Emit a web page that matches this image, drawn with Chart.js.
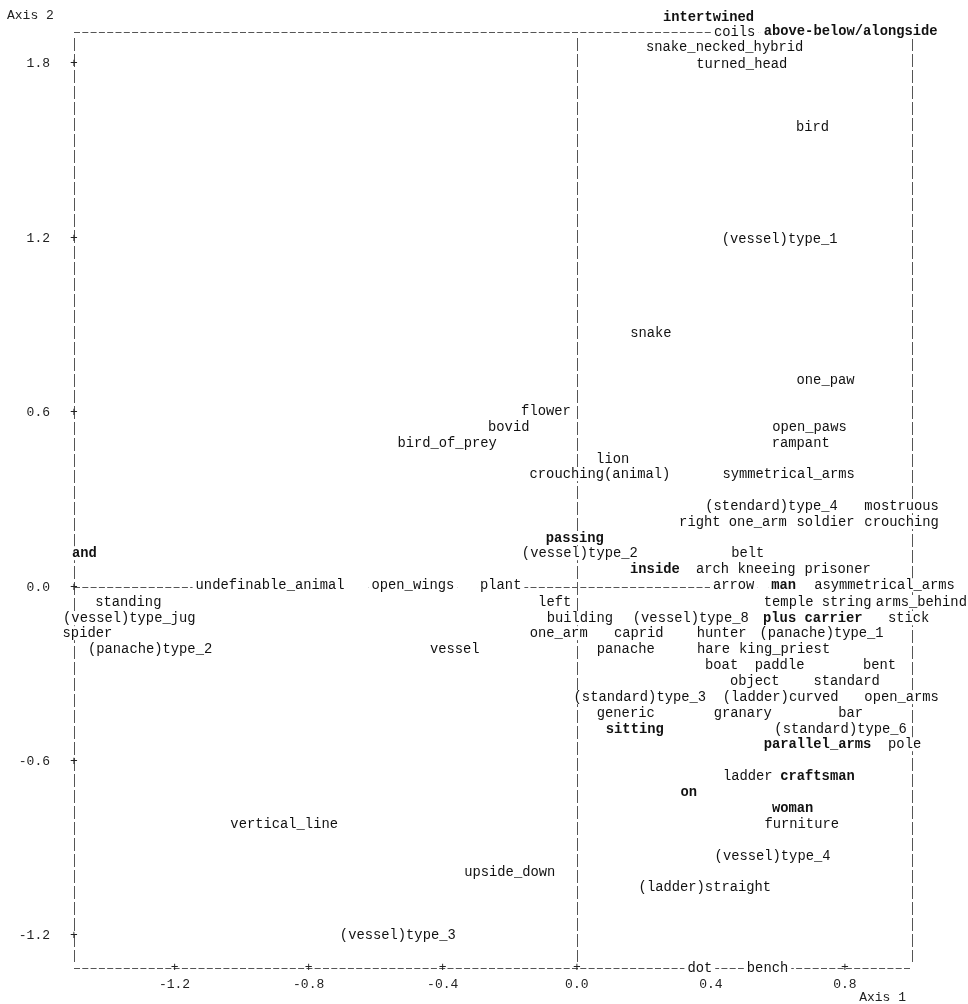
<!DOCTYPE html>
<html>
<head>
<meta charset="utf-8">
<script src="https://cdn.jsdelivr.net/npm/chart.js@4"></script>
<style>
  html, body { margin: 0; padding: 0; background: #fff; }
  #wrap { width: 968px; height: 1004px; position: relative; }
</style>
</head>
<body>
<div id="wrap"><canvas id="caChart"></canvas></div>
<script>
// correspondence analysis map: modality labels with their coordinates on axis 1 / axis 2
const labelNames = [
  'intertwined', 'coils', 'above-below/alongside', 'snake_necked_hybrid', 'turned_head',
  'bird', '(vessel)type_1', 'snake', 'one_paw', 'flower', 'bovid', 'open_paws',
  'bird_of_prey', 'rampant', 'lion', 'crouching(animal)', 'symmetrical_arms',
  '(stendard)type_4', 'mostruous', 'right', 'one_arm', 'soldier', 'crouching',
  'passing', 'and', '(vessel)type_2', 'belt', 'inside', 'arch', 'kneeing', 'prisoner',
  'undefinable_animal', 'open_wings', 'plant', 'arrow', 'man', 'asymmetrical_arms',
  'standing', 'left', 'temple', 'string', 'arms_behind',
  '(vessel)type_jug', 'building', '(vessel)type_8', 'plus', 'carrier', 'stick',
  'spider', 'one_arm', 'caprid', 'hunter', '(panache)type_1',
  '(panache)type_2', 'vessel', 'panache', 'hare', 'king_priest',
  'boat', 'paddle', 'bent', 'object', 'standard',
  '(standard)type_3', '(ladder)curved', 'open_arms', 'generic', 'granary', 'bar',
  'sitting', '(standard)type_6', 'parallel_arms', 'pole', 'ladder', 'craftsman',
  'on', 'woman', 'vertical_line', 'furniture', '(vessel)type_4', 'upside_down',
  '(ladder)straight', '(vessel)type_3', 'dot', 'bench'
];
const axis1 = [
  0.393, 0.471, 0.817, 0.441, 0.492,
  0.703, 0.605, 0.221, 0.742, -0.092, -0.203, 0.694,
  -0.387, 0.668, 0.107, 0.069, 0.632,
  0.581, 0.969, 0.367, 0.540, 0.742, 0.969,
  -0.006, -1.469, 0.009, 0.510, 0.233, 0.405, 0.566, 0.778,
  -0.915, -0.489, -0.227, 0.468, 0.617, 0.918,
  -1.338, -0.066, 0.632, 0.805, 1.028,
  -1.335, 0.009, 0.340, 0.605, 0.766, 0.990,
  -1.460, -0.054, 0.185, 0.432, 0.730,
  -1.273, -0.364, 0.146, 0.408, 0.620,
  0.432, 0.605, 0.903, 0.531, 0.805,
  0.188, 0.608, 0.969, 0.146, 0.495, 0.817,
  0.173, 0.787, 0.718, 0.978, 0.510, 0.718,
  0.334, 0.644, -0.873, 0.671, 0.584, -0.200,
  0.382, -0.534, 0.367, 0.569
];
const axis2 = [
  1.960, 1.910, 1.910, 1.858, 1.800,
  1.582, 1.197, 0.874, 0.712, 0.605, 0.550, 0.550,
  0.495, 0.495, 0.440, 0.389, 0.389,
  0.279, 0.279, 0.224, 0.224, 0.224, 0.224,
  0.169, 0.117, 0.117, 0.117, 0.062, 0.062, 0.062, 0.062,
  0.007, 0.007, 0.007, 0.007, 0.007, 0.007,
  -0.052, -0.052, -0.052, -0.052, -0.052,
  -0.107, -0.107, -0.107, -0.107, -0.107, -0.107,
  -0.158, -0.158, -0.158, -0.158, -0.158,
  -0.213, -0.213, -0.213, -0.213, -0.213,
  -0.268, -0.268, -0.268, -0.323, -0.323,
  -0.378, -0.378, -0.378, -0.433, -0.433, -0.433,
  -0.488, -0.488, -0.540, -0.540, -0.650, -0.650,
  -0.705, -0.760, -0.815, -0.815, -0.925, -0.980,
  -1.032, -1.197, -1.310, -1.310
];
const boldLabels = ['intertwined', 'above-below/alongside', 'passing', 'and', 'inside', 'man',
  'plus', 'carrier', 'sitting', 'parallel_arms', 'craftsman', 'on', 'woman'];

const axis1Ticks = [-1.2, -0.8, -0.4, 0.0, 0.4, 0.8];
const axis2Ticks = [-1.2, -0.6, 0.0, 0.6, 1.2, 1.8];

const mono = '"Liberation Mono", "DejaVu Sans Mono", monospace';

const caPlot = {
  id: 'caPlot',
  beforeDatasetsDraw(chart) {
    const {ctx, chartArea: a, scales: {x, y}} = chart;
    const x0 = Math.round(x.getPixelForValue(0)) + 0.5;
    const y0 = Math.round(y.getPixelForValue(0)) + 0.5;
    ctx.save();
    ctx.strokeStyle = '#555';
    ctx.lineWidth = 1;
    ctx.setLineDash([6, 2.3]);
    [Math.round(a.top) + 0.5, y0, Math.round(a.bottom) + 0.5].forEach(py => {
      ctx.beginPath();
      ctx.moveTo(a.left, py);
      ctx.lineTo(a.right, py);
      ctx.stroke();
    });
    ctx.setLineDash([13, 3]);
    [Math.round(a.left) + 0.5, x0, Math.round(a.right) + 0.5].forEach(px => {
      ctx.beginPath();
      ctx.moveTo(px, a.top + 6);
      ctx.lineTo(px, a.bottom - 6);
      ctx.stroke();
    });
    // "+" tick marks on the frame
    ctx.setLineDash([]);
    ctx.fillStyle = '#222';
    ctx.font = '13px ' + mono;
    ctx.textAlign = 'center';
    ctx.textBaseline = 'middle';
    y.ticks.forEach(t => ctx.fillText('+', a.left, y.getPixelForValue(t.value)));
    x.ticks.forEach(t => ctx.fillText('+', x.getPixelForValue(t.value), a.bottom));
    ctx.restore();
  },
  afterDatasetsDraw(chart) {
    const ctx = chart.ctx;
    const pts = chart.getDatasetMeta(0).data;
    ctx.save();
    ctx.textAlign = 'center';
    ctx.textBaseline = 'middle';
    const fontFor = name => (boldLabels.includes(name) ? 'bold ' : '') + '13.8px ' + mono;
    // blank out the dashed lines under each label first
    const boxes = pts.map((pt, i) => {
      ctx.font = fontFor(labelNames[i]);
      const w = ctx.measureText(labelNames[i]).width;
      return {l: pt.x - w / 2 - 3, r: pt.x + w / 2 + 3, y: pt.y};
    });
    ctx.fillStyle = '#fff';
    boxes.forEach(b => ctx.fillRect(b.l, b.y - 7, b.r - b.l, 14));
    // short gaps between neighbours on one text row are blank too
    boxes.forEach(b => boxes.forEach(c => {
      if (Math.abs(c.y - b.y) < 2 && c.l > b.r && c.l - b.r < 24) {
        ctx.fillRect(b.r, b.y - 7, c.l - b.r, 14);
      }
    }));
    ctx.fillStyle = '#111';
    pts.forEach((pt, i) => {
      ctx.font = fontFor(labelNames[i]);
      ctx.fillText(labelNames[i], pt.x, pt.y);
    });
    ctx.restore();
  },
  afterDraw(chart) {
    const ctx = chart.ctx;
    ctx.save();
    ctx.fillStyle = '#222';
    ctx.font = '13px ' + mono;
    ctx.textBaseline = 'middle';
    ctx.textAlign = 'left';
    ctx.fillText('Axis 2', 7, 16);
    ctx.textAlign = 'right';
    ctx.fillText('Axis 1', 906, 998);
    ctx.restore();
  }
};

new Chart(document.getElementById('caChart'), {
  type: 'scatter',
  data: {
    datasets: [{
      data: labelNames.map((n, i) => ({x: axis1[i], y: axis2[i]})),
      pointRadius: 0,
      pointHoverRadius: 0
    }]
  },
  options: {
    responsive: true,
    maintainAspectRatio: false,
    animation: false,
    events: [],
    layout: { padding: { top: 32, right: 56, left: 0, bottom: 0 } },
    plugins: {
      legend: { display: false },
      tooltip: { enabled: false }
    },
    scales: {
      x: {
        type: 'linear',
        min: -1.5,
        max: 1.0,
        grid: { display: false, drawTicks: false },
        border: { display: false },
        afterBuildTicks: s => { s.ticks = axis1Ticks.map(v => ({value: v})); },
        afterFit: s => { s.height = 36; },
        ticks: {
          padding: 9,
          autoSkip: false,
          maxRotation: 0,
          color: '#222',
          font: { family: mono, size: 13 },
          callback: v => Number(v).toFixed(1)
        }
      },
      y: {
        type: 'linear',
        min: -1.31,
        max: 1.91,
        grid: { display: false, drawTicks: false },
        border: { display: false },
        afterBuildTicks: s => { s.ticks = axis2Ticks.map(v => ({value: v})); },
        afterFit: s => { s.width = 74; },
        ticks: {
          padding: 24,
          autoSkip: false,
          color: '#222',
          font: { family: mono, size: 13 },
          callback: v => Number(v).toFixed(1)
        }
      }
    }
  },
  plugins: [caPlot]
});
</script>
</body>
</html>
